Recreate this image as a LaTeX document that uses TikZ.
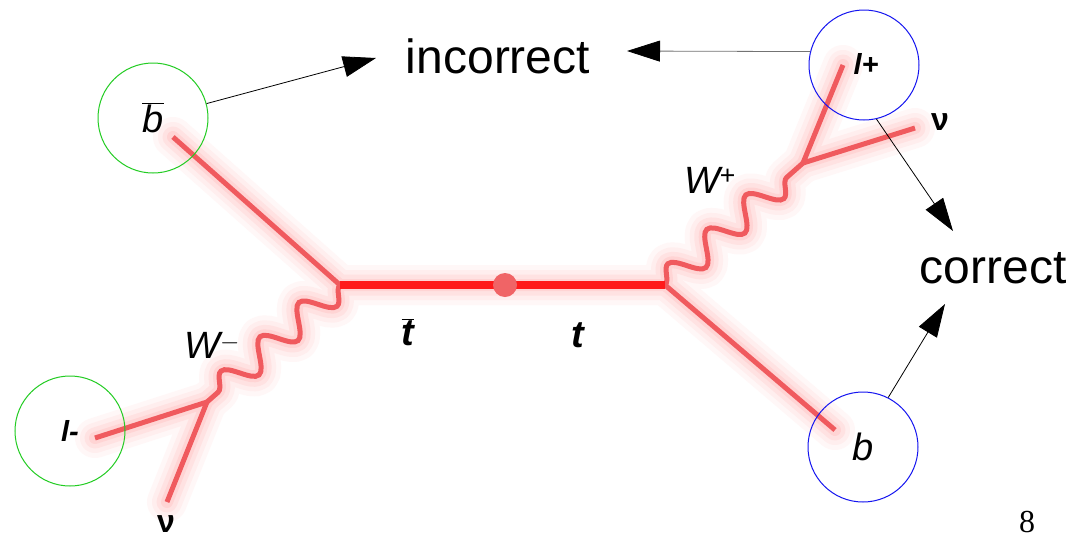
\documentclass[tikz,border=0pt]{standalone}
\usepackage{fontspec}
\setmainfont{Liberation Sans}
\newfontfamily\serifnum{Liberation Serif}
\usetikzlibrary{arrows.meta,decorations.pathmorphing}
\definecolor{lred}{HTML}{F05A5E}
\definecolor{tred}{HTML}{FF1A1A}
\definecolor{dotred}{HTML}{F06466}
\definecolor{glowa}{HTML}{FFF7F7}
\definecolor{glowb}{HTML}{FFEEEE}
\definecolor{glowc}{HTML}{FFE2E2}
\definecolor{glowd}{HTML}{FFD4D4}
\definecolor{cgreen}{HTML}{22CC22}
\definecolor{cblue}{HTML}{1414F0}
\tikzset{wavy/.style={decorate, decoration={snake, segment length=52, amplitude=14}}}
\newcommand\feynpaths[2]{%
  \draw[#1, line width=#2] (bbarEnd) -- (vL) -- (vR) -- (bEnd);
  \draw[#1, line width=#2, wavy] (vR) -- (wp);
  \draw[#1, line width=#2, wavy] (vL) -- (wm);
  \draw[#1, line width=#2] (lpEnd) -- (wp) -- (nuR);
  \draw[#1, line width=#2] (lmEnd) -- (wm) -- (nuL);
}
\begin{document}
\begin{tikzpicture}[x=1pt,y=-1pt,
  fermion/.style={lred, line width=5, line cap=butt},
  boson/.style={lred, line width=5, wavy},
  topline/.style={tred, line width=8},
  ring/.style={circle, draw=#1, line width=1, minimum size=110, inner sep=0},
  plabel/.style={font=\fontsize{38}{38}\selectfont\itshape},
  lepton/.style={font=\fontsize{29}{29}\selectfont\bfseries\itshape},
  nulabel/.style={font=\fontsize{32}{32}\selectfont\bfseries},
  bigtext/.style={font=\fontsize{48}{48}\selectfont, anchor=base},
  arr/.style={-{Triangle[length=33,width=21,color=black]}, line width=0.8, black},
  glowstyle/.style={line cap=round, line join=round},
]
\useasboundingbox[fill=white] (0,0) rectangle (1085,539);

% vertices and line ends
\coordinate (vL) at (340,285);
\coordinate (vR) at (665,285);
\coordinate (bbarEnd) at (173,137);
\coordinate (bEnd) at (835,430);
\coordinate (wp) at (803,163);
\coordinate (lpEnd) at (843,65);
\coordinate (nuR) at (915,128);
\coordinate (wm) at (207,402);
\coordinate (lmEnd) at (95,438);
\coordinate (nuL) at (167,502);

% glow
\begin{scope}[shift={(12,14)}]
  \feynpaths{glowa, glowstyle}{40}
  \feynpaths{glowb, glowstyle}{30}
  \feynpaths{glowc, glowstyle}{21}
  \feynpaths{glowd, glowstyle}{12}
\end{scope}

% particle lines
\draw[fermion] (bbarEnd) -- (vL);
\draw[fermion] (vR) -- (bEnd);
\draw[boson] (vR) -- (wp);
\draw[boson] (vL) -- (wm);
\draw[fermion] (lpEnd) -- (wp) -- (nuR);
\draw[fermion] (lmEnd) -- (wm) -- (nuL);
\draw[topline] (vL) -- (vR);
\node[circle, fill=dotred, minimum size=24, inner sep=0] (dot) at (505,285) {};

% labels
\node[plabel] (tbar) at (408,332) {$\overline{\mbox{\bfseries\itshape t}}$};
\node[plabel] (t) at (578,335) {\bfseries t};
\node[plabel] (Wp) at (710,180) {W\textsuperscript{\upshape +}};
\node[plabel] (Wm) at (212,345) {W\textsuperscript{\upshape $-$}};
\node[nulabel] (nuRl) at (940,122) {ν};
\node[nulabel] (nuLl) at (166,524) {ν};

% circles with particle names
\node[ring=cgreen, plabel] (bbarC) at (153,118) {$\overline{\mbox{\itshape b}}$};
\node[ring=cgreen, lepton] (lmC) at (70,431) {l-};
\node[ring=cblue, lepton] (lpC) at (864,65) {\raisebox{3pt}{\hspace{4pt}l+}};
\node[ring=cblue, plabel] (bC) at (863,447) {b};

% text
\node[bigtext] (incorrect) at (498,73) {incorrect};
\node[bigtext] (correct) at (993,283) {correct};
\node[font=\serifnum\fontsize{32}{32}\selectfont] (page) at (1027,522) {8};

% arrows
\coordinate (tipA) at (376,58);
\coordinate (tipB) at (627,51);
\coordinate (tipC) at (953,231);
\coordinate (tipD) at (945,304);
\draw[arr] (bbarC) -- (tipA);
\draw[arr, draw=black!55] (lpC.166) -- (tipB);
\draw[arr] (lpC.-77) -- (tipC);
\draw[arr] (bC.63) -- (tipD);
\end{tikzpicture}
\end{document}
